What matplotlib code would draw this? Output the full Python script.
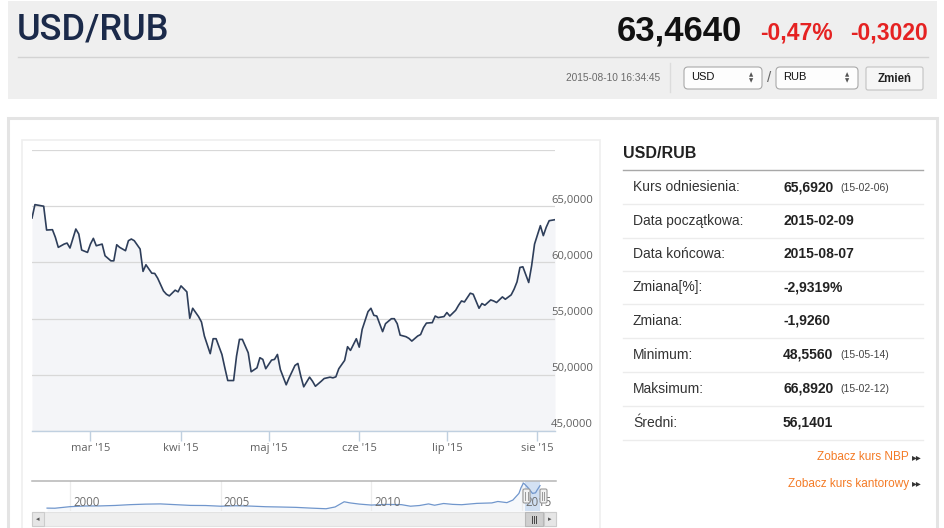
import matplotlib
matplotlib.use("Agg")
import matplotlib.pyplot as plt
import matplotlib.dates as mdates
import matplotlib.transforms as mtransforms
from matplotlib.patches import Rectangle, FancyBboxPatch
from matplotlib.lines import Line2D

# ---------------- data ----------------
dates = [
    "2015-02-09", "2015-02-10", "2015-02-12", "2015-02-13", "2015-02-14", "2015-02-16",
    "2015-02-17", "2015-02-18", "2015-02-20", "2015-02-21", "2015-02-22", "2015-02-24",
    "2015-02-25", "2015-02-26", "2015-02-28", "2015-03-01", "2015-03-02", "2015-03-03",
    "2015-03-05", "2015-03-06", "2015-03-08", "2015-03-09", "2015-03-10", "2015-03-11",
    "2015-03-13", "2015-03-14", "2015-03-15", "2015-03-16", "2015-03-18", "2015-03-19",
    "2015-03-20", "2015-03-22", "2015-03-23", "2015-03-24", "2015-03-26", "2015-03-27",
    "2015-03-28", "2015-03-30", "2015-03-31", "2015-04-01", "2015-04-03", "2015-04-04",
    "2015-04-05", "2015-04-07", "2015-04-08", "2015-04-09", "2015-04-11", "2015-04-12",
    "2015-04-13", "2015-04-15", "2015-04-16", "2015-04-17", "2015-04-19", "2015-04-20",
    "2015-04-21", "2015-04-22", "2015-04-24", "2015-04-25", "2015-04-27", "2015-04-28",
    "2015-04-29", "2015-04-30", "2015-05-02", "2015-05-03", "2015-05-04", "2015-05-05",
    "2015-05-07", "2015-05-08", "2015-05-10", "2015-05-11", "2015-05-12", "2015-05-13",
    "2015-05-15", "2015-05-16", "2015-05-17", "2015-05-19", "2015-05-20", "2015-05-22",
    "2015-05-23", "2015-05-24", "2015-05-25", "2015-05-27", "2015-05-28", "2015-05-29",
    "2015-05-31", "2015-06-01", "2015-06-02", "2015-06-04", "2015-06-05", "2015-06-06",
    "2015-06-07", "2015-06-09", "2015-06-10", "2015-06-12", "2015-06-13", "2015-06-14",
    "2015-06-15", "2015-06-17", "2015-06-18", "2015-06-19", "2015-06-21", "2015-06-22",
    "2015-06-23", "2015-06-24", "2015-06-26", "2015-06-27", "2015-06-28", "2015-06-30",
    "2015-07-01", "2015-07-02", "2015-07-04", "2015-07-05", "2015-07-06", "2015-07-07",
    "2015-07-09", "2015-07-10", "2015-07-12", "2015-07-13", "2015-07-14", "2015-07-16",
    "2015-07-17", "2015-07-18", "2015-07-20", "2015-07-21", "2015-07-23", "2015-07-24",
    "2015-07-25", "2015-07-26", "2015-07-27", "2015-07-29", "2015-07-30", "2015-07-31",
    "2015-08-02", "2015-08-03", "2015-08-04", "2015-08-05", "2015-08-07",
]
rates = [
    63.95, 65.14, 65.05, 65.00, 62.88, 62.91,
    62.23, 61.34, 61.63, 61.72, 61.28, 62.97,
    62.53, 61.10, 60.89, 61.63, 62.14, 61.48,
    61.63, 60.59, 60.14, 60.14, 61.57, 61.34,
    61.04, 61.93, 62.08, 61.93, 61.19, 59.20,
    59.79, 59.04, 59.02, 58.60, 57.46, 57.17,
    57.02, 57.53, 57.38, 57.91, 57.38, 55.03,
    55.92, 55.18, 54.70, 53.45, 51.88, 53.21,
    53.21, 51.81, 50.62, 49.49, 49.49, 51.66,
    53.15, 53.15, 51.96, 50.27, 50.62, 51.52,
    51.37, 50.54, 51.31, 51.37, 51.81, 50.47,
    49.11, 49.73, 50.83, 51.01, 49.88, 48.93,
    49.79, 49.43, 48.98, 49.43, 49.67, 49.79,
    49.73, 49.82, 50.54, 51.28, 52.50, 52.17,
    53.21, 52.46, 54.04, 55.62, 55.92, 55.29,
    55.23, 53.84, 54.55, 54.99, 54.99, 54.55,
    53.53, 53.39, 53.24, 53.00, 53.45, 53.58,
    54.20, 54.60, 54.64, 55.23, 55.09, 55.18,
    55.54, 55.23, 55.74, 56.19, 56.57, 56.48,
    57.26, 57.17, 55.92, 56.34, 56.19, 56.66,
    56.57, 56.43, 56.93, 56.72, 57.11, 57.62,
    58.27, 59.55, 59.61, 58.21, 59.70, 61.63,
    63.27, 62.38, 63.13, 63.71, 63.80,
]

month_ticks = ["2015-03-01", "2015-04-01", "2015-05-01", "2015-06-01", "2015-07-01", "2015-08-01"]
month_labels = ["mar '15", "kwi '15", "maj '15", "cze '15", "lip '15", "sie '15"]
y_ticks = [45, 50, 55, 60, 65, 70]

nav_years = [1999.24, 1999.5, 2000.0, 2000.5, 2001.0, 2001.5, 2002.0, 2002.5, 2003.0, 2003.5,
             2004.0, 2004.5, 2005.0, 2005.5, 2006.0, 2006.5, 2007.0, 2007.5, 2008.0, 2008.5,
             2008.8, 2009.1, 2009.3, 2009.6, 2010.0, 2010.5, 2011.0, 2011.3, 2011.6, 2011.9,
             2012.1, 2012.4, 2012.7, 2013.0, 2013.5, 2014.0, 2014.2, 2014.5, 2014.7, 2014.9,
             2014.97, 2015.05, 2015.1, 2015.2, 2015.35, 2015.45, 2015.5, 2015.6]
nav_rates = [24.5, 24.3, 27.0, 28.2, 28.3, 29.1, 30.5, 31.4, 31.8, 30.5,
             29.2, 29.0, 27.8, 28.6, 28.0, 26.9, 26.4, 25.8, 24.5, 23.4,
             26.5, 35.5, 33.5, 31.5, 29.8, 30.9, 30.5, 27.8, 29.0, 31.8,
             29.5, 32.5, 31.0, 30.4, 32.7, 33.5, 36.0, 34.0, 38.5, 50.0,
             60.0, 68.0, 65.5, 60.0, 50.0, 51.0, 55.5, 63.5]
nav_year_labels = [2000, 2005, 2010, 2015]
nav_selection = [2015.11, 2015.6]

pair = "USD/RUB"
last_rate = "63,4640"
change_pct = "-0,47%"
change_abs = "-0,3020"
timestamp = "2015-08-10 16:34:45"

stat_labels = ["Kurs odniesienia:", "Data początkowa:", "Data końcowa:", "Zmiana[%]:",
               "Zmiana:", "Minimum:", "Maksimum:", "Średni:"]
stat_values = ["65,6920", "2015-02-09", "2015-08-07", "-2,9319%", "-1,9260",
               "48,5560", "66,8920", "56,1401"]
stat_dates = ["(15-02-06)", "", "", "", "", "(15-05-14)", "(15-02-12)", ""]
links = ["Zobacz kurs NBP", "Zobacz kurs kantorowy"]

# ---------------- figure ----------------
W, H = 945, 528
fig = plt.figure(figsize=(W / 100, H / 100), dpi=100)
fig.patch.set_facecolor("white")

SANS = ["Liberation Sans", "DejaVu Sans"]
HEAD = ["Roboto", "Liberation Sans", "DejaVu Sans"]
OPEN = ["Open Sans", "DejaVu Sans"]


def fx(x):
    return x / W


def fy(y):
    return 1 - y / H


def rect(x0, y0, x1, y1, z=1, **kw):
    r = Rectangle((fx(x0), fy(y1)), (x1 - x0) / W, (y1 - y0) / H,
                  transform=fig.transFigure, zorder=z, **kw)
    fig.add_artist(r)
    return r


def rrect(x0, y0, x1, y1, rad=3, z=1, **kw):
    r = FancyBboxPatch((fx(x0), fy(y1)), (x1 - x0) / W, (y1 - y0) / H,
                       boxstyle="round,pad=0,rounding_size=%f" % (rad / W),
                       transform=fig.transFigure, mutation_aspect=W / H, zorder=z, **kw)
    fig.add_artist(r)
    return r


def line(x0, y0, x1, y1, z=1, **kw):
    fig.add_artist(Line2D([fx(x0), fx(x1)], [fy(y0), fy(y1)], transform=fig.transFigure,
                          zorder=z, **kw))


def txt(x, y, s, **kw):
    kw.setdefault("va", "center")
    kw.setdefault("zorder", 12)
    return fig.text(fx(x), fy(y), s, **kw)


# header block
rect(8, 1, 937, 99, z=-2, facecolor="#efefef", edgecolor="none")
txt(17, 30, pair, family=HEAD, fontsize=26, weight="medium", color="#1b2a4a", ha="left")
txt(742, 31, last_rate, family=SANS, fontsize=25, weight="bold", color="#111111", ha="right")
txt(833, 33, change_pct, family=SANS, fontsize=16.5, weight="bold", color="#e52222", ha="right")
txt(928, 33, change_abs, family=SANS, fontsize=16.5, weight="bold", color="#e52222", ha="right")
line(18, 57, 928, 57, color="#d3d3d3", lw=1)
txt(660, 78, timestamp, family=SANS, fontsize=7.3, color="#6a6a6a", ha="right")
line(670, 63, 670, 92, color="#dcdcdc", lw=1)
for (bx0, bx1, lab) in [(684, 762, "USD"), (776, 858, "RUB")]:
    rrect(bx0, 67, bx1, 89, rad=4, facecolor="#fdfdfd", edgecolor="#a9a9a9", lw=0.8)
    txt(bx0 + 7, 77.5, lab, family=SANS, fontsize=8, color="#111111", ha="left")
    txt(bx1 - 11, 74.5, "▲", family=["DejaVu Sans"], fontsize=4, color="#555555", ha="center")
    txt(bx1 - 11, 80.5, "▼", family=["DejaVu Sans"], fontsize=4, color="#555555", ha="center")
txt(769, 78, "/", family=SANS, fontsize=11, color="#666666", ha="center")
rrect(866, 67, 923, 90, rad=2, facecolor="#f6f6f6", edgecolor="#c2c2c2", lw=0.8)
txt(894.5, 78.5, "Zmień", family=SANS, fontsize=8.3, weight="bold", color="#222222", ha="center")

# panel borders
rect(8, 118, 937, 535, z=-2, facecolor="white", edgecolor="#e4e4e4", lw=2.2)
rect(22, 140, 600, 535, z=-1, facecolor="white", edgecolor="#efefef", lw=1.2)

# ---------------- main chart ----------------
ax = fig.add_axes([fx(32), fy(431), (555 - 32) / W, (431 - 150) / H])
ax.set_zorder(5)
xd = mdates.datestr2num(dates)
ax.fill_between(xd, rates, y_ticks[0], color="#f4f5f8", lw=0, zorder=1)
ax.plot(xd, rates, color="#2e3e5a", lw=1.2, zorder=3, solid_joinstyle="round")
ax.set_xlim(mdates.datestr2num("2015-02-09"), mdates.datestr2num("2015-08-07"))
ax.set_ylim(y_ticks[0], y_ticks[-1])
ax.set_yticks(y_ticks)
ax.yaxis.set_ticklabels([])
ax.tick_params(axis="y", length=0)
ax.grid(axis="y", color="#d8d8d8", lw=0.9, zorder=2)
ax.set_axisbelow(False)
for s in ["top", "left", "right"]:
    ax.spines[s].set_visible(False)
ax.spines["bottom"].set_color("#c0d0e0")
ax.spines["bottom"].set_linewidth(1)
ax.spines["bottom"].set_zorder(4)
ax.set_xticks(mdates.datestr2num(month_ticks))
ax.set_xticklabels(month_labels, family=OPEN, fontsize=8, color="#606060")
ax.tick_params(axis="x", direction="out", length=7, width=1, color="#c0d0e0", pad=1.5)
ax.patch.set_alpha(0)
lab_tr = mtransforms.blended_transform_factory(ax.transAxes, ax.transData) + \
    mtransforms.ScaledTranslation(-4 / 100, 6 / 100, fig.dpi_scale_trans)
for v in y_ticks[:-1]:
    ax.text(1.0, v, f"{v:.4f}".replace(".", ","), transform=lab_tr, family=OPEN,
            fontsize=8.1, color="#606060", ha="left", va="center", clip_on=False)

# ---------------- navigator ----------------
nav = fig.add_axes([fx(32), fy(511), (556 - 32) / W, 30 / H])
nav.set_zorder(5)
nav.set_xlim(1998.74, 2016.13)
nav.set_ylim(19.5, 71.5)
nav.fill_between(nav_years, nav_rates, 19.5, color="#6f93c9", alpha=0.06, lw=0)
nav.plot(nav_years, nav_rates, color="#7096cc", lw=0.9, zorder=3)
nav.axvspan(nav_selection[0], nav_selection[1], color="#bcd2ee", alpha=0.65, lw=0, zorder=2)
for yr in nav_year_labels:
    nav.axvline(yr, color="#ececec", lw=0.9, zorder=1)
    nav.text(yr + 0.1, 0.3, str(yr), transform=nav.get_xaxis_transform(),
             family=OPEN, fontsize=8.3, color="#6e6e6e", ha="left", va="center", zorder=4)
nav.set_xticks([])
nav.set_yticks([])
for s in ["left", "right", "bottom"]:
    nav.spines[s].set_visible(False)
nav.spines["top"].set_color("#b5b5b5")
nav.spines["top"].set_linewidth(1.1)
nav.patch.set_alpha(0)

# navigator handles
for hx in (523, 540):
    rrect(hx, 489, hx + 7, 503, rad=1.5, z=8, facecolor="#f2f2f2", edgecolor="#999999", lw=0.8)
    line(hx + 2.5, 492, hx + 2.5, 500, z=9, color="#999999", lw=0.7)
    line(hx + 4.5, 492, hx + 4.5, 500, z=9, color="#999999", lw=0.7)

# scrollbar
rect(32, 512, 556, 526, z=8, facecolor="#eeeeee", edgecolor="#e2e2e2", lw=0.8)
rect(32, 512, 44, 526, z=8, facecolor="#e6e6e6", edgecolor="#cccccc", lw=0.8)
rect(544, 512, 556, 526, z=8, facecolor="#e6e6e6", edgecolor="#cccccc", lw=0.8)
txt(38, 519.5, "◂", family=["DejaVu Sans"], fontsize=5, color="#555555", ha="center")
txt(550, 519.5, "▸", family=["DejaVu Sans"], fontsize=5, color="#555555", ha="center")
rect(525, 512, 543, 526, z=9, facecolor="#cfcfcf", edgecolor="#b8b8b8", lw=0.8)
for gx in (532, 534, 536):
    line(gx, 516, gx, 523, z=10, color="#444444", lw=0.7)

# ---------------- statistics panel ----------------
txt(623, 153, pair, family=SANS, fontsize=11.5, weight="bold", color="#222222", ha="left")
line(623, 169.5, 923, 169.5, color="#a8a8a8", lw=1)
row_y = [187.3, 220.7, 254.5, 287.3, 320.8, 354.8, 388.8, 422.8]
sep_y = [204, 237.5, 271.3, 304, 337.5, 371.7, 406, 440]
for i, lab in enumerate(stat_labels):
    txt(633, row_y[i], lab, family=SANS, fontsize=10, color="#333333", ha="left")
    txt(783, row_y[i], stat_values[i], family=SANS, fontsize=10, weight="bold",
        color="#222222", ha="left")
    if stat_dates[i]:
        txt(840, row_y[i] + 0.5, stat_dates[i], family=SANS, fontsize=7.5, color="#444444", ha="left")
    line(623, sep_y[i], 923, sep_y[i], color="#ececec", lw=1)

for j, (lk, ly) in enumerate(zip(links, [457, 483.5])):
    txt(909, ly, lk, family=SANS, fontsize=8.5, color="#f47b26", ha="right")
    txt(917, ly, "▸▸", family=["DejaVu Sans"], fontsize=7, color="#333333", ha="center")

fig.savefig("out.png", dpi=100, facecolor="white")
